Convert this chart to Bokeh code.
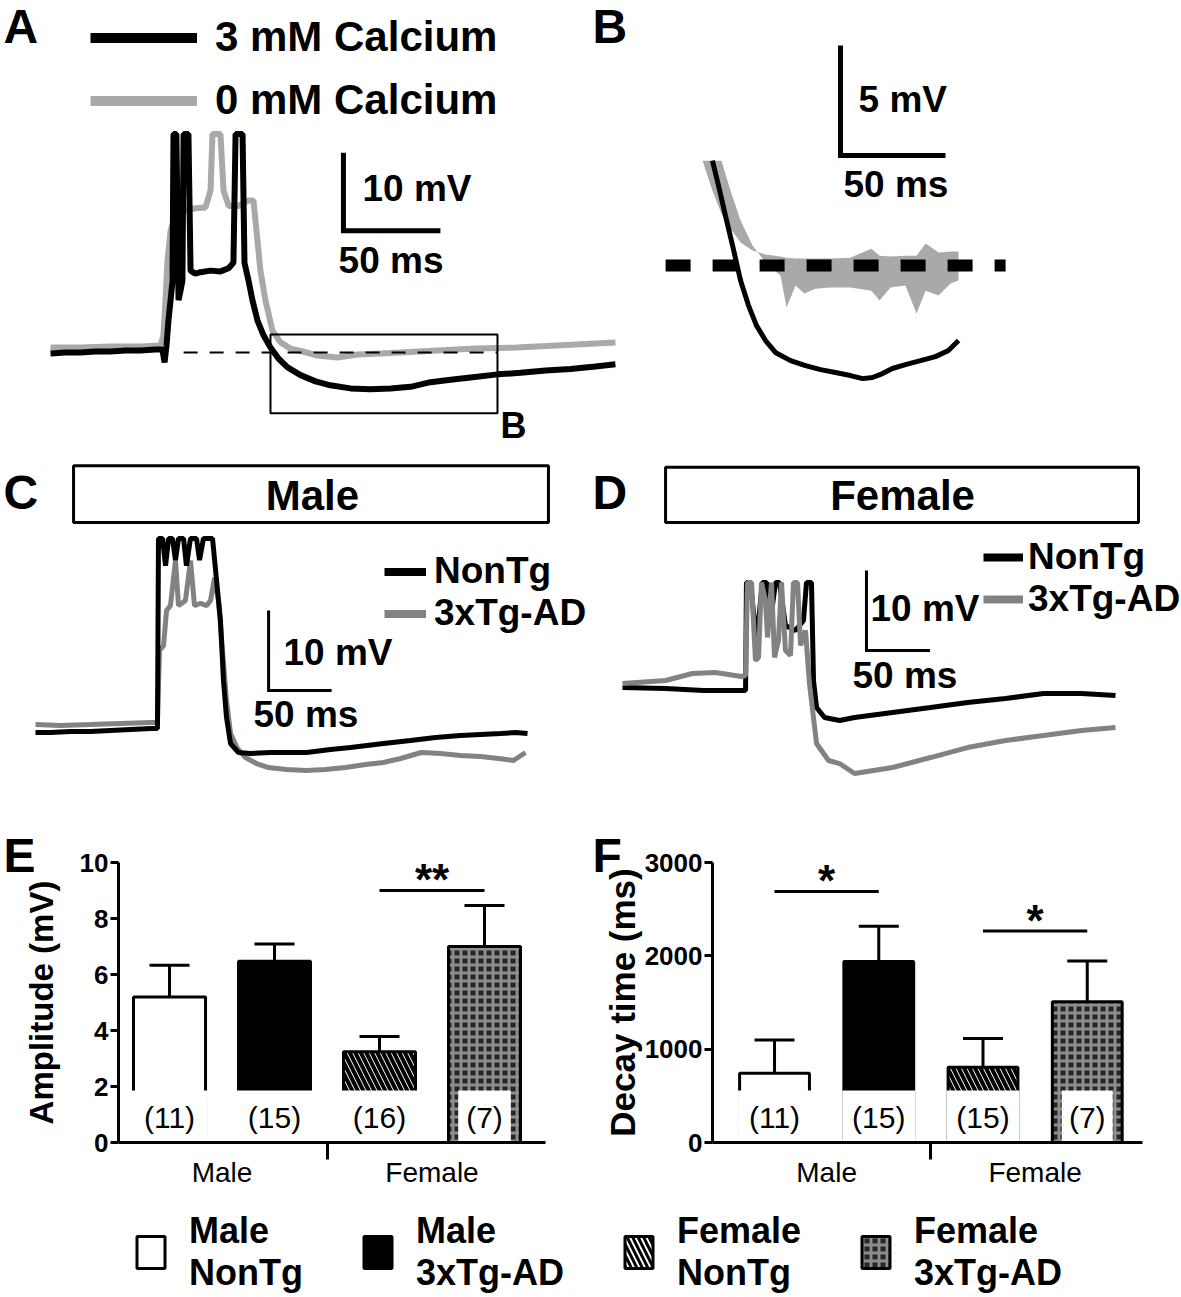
import numpy as np
from bokeh.plotting import figure
from bokeh.models import (Range1d, Label, Legend, LegendItem, ColumnDataSource,
                          BoxAnnotation, FixedTicker, Whisker, TeeHead, Title)
from bokeh.layouts import column, row
from bokeh.embed import file_html
from bokeh.resources import INLINE
from bokeh.core.properties import value

FONT = "Liberation Sans"
BLACK = "#000000"
LIGHT_GRAY = "#a9a9a9"
MID_GRAY = "#828282"

# ---------------- data (time in ms, potential in mV relative to baseline) ----------------
# Panel A
a_ca3_t = [0, 7.7, 15.5, 23.2, 30.9, 38.7, 46.4, 54.1, 57.7, 58.8, 59.8, 60.8, 61.9, 62.9, 63.4, 64.9, 66.0, 67.0,
           68.0, 68.6, 71.1, 72.2, 74.7, 77.3, 82.5, 87.6, 91.8, 94.3, 95.4, 99.0, 100.0, 102.1, 104.1, 106.7, 109.8,
           113.4, 117.5, 122.2, 128.9, 136.6, 144.3, 154.6, 164.9, 175.3, 185.6, 195.9, 206.2, 216.5, 230.4, 242.3,
           255.2, 268.0, 280.9, 291.2]
a_ca3_v = [-0.13, 0, 0, 0.13, 0.13, 0.26, 0.26, 0.38, 0.38, -1.28, 0.9, 4.1, 6.7, 9.2, 28, 28, 6.7, 7.9,
           9.2, 28, 28, 10.5, 10.1, 10.3, 10.5, 10.4, 10.8, 11.5, 28, 28, 11.5, 9.2, 6.7, 4.1, 2.2,
           0.64, -0.77, -1.9, -2.9, -3.7, -4.2, -4.6, -4.7, -4.6, -4.4, -3.8, -3.5, -3.2, -2.8, -2.6,
           -2.3, -2.1, -1.8, -1.5]
a_ca0_t = [0, 15.5, 30.9, 46.4, 56.7, 58.2, 59.3, 60.3, 61.9, 64.4, 69.6, 74.7, 79.9, 82.5, 83.5, 87.6, 89.2, 91.8,
           96.9, 102.1, 104.6, 106.2, 108.2, 110.8, 114.4, 118.6, 123.7, 129.9, 137.6, 147.9, 158.2, 170.1, 180.4,
           199.5, 219.6, 240.2, 260.8, 291.2]
a_ca0_v = [0.64, 0.64, 0.77, 0.77, 0.9, 2.2, 6.7, 11.8, 15.6, 17.6, 18.2, 18.5, 18.6, 20.8, 28, 28, 20.8, 18.8,
           18.8, 19.5, 19.5, 15.6, 10.5, 6.7, 2.8, 1.3, 0.5, 0.13, -0.38, -0.64, -0.26, -0.13, 0,
           0.26, 0.51, 0.64, 0.9, 1.28]
a_base_t = [68.6, 230.4]
a_zoom_t = [113.4, 230.4]
a_zoom_v = [-7.8, 2.3]

# Panel B (enlarged window)
b_ca3_t = [116.7, 119.6, 122.9, 126.3, 130.1, 133.9, 137.7, 142.0, 146.7, 153.9, 161.0, 168.2, 175.3, 182.4,
           188.2, 192.9, 197.7, 202.4, 208.6, 215.8, 222.9, 229.1, 233.9]
b_ca3_v = [4.77, 3.64, 2.27, 0.91, -0.68, -1.82, -2.73, -3.41, -3.95, -4.32, -4.55, -4.73, -4.86, -5.0,
           -5.14, -5.09, -4.91, -4.68, -4.5, -4.32, -4.14, -3.86, -3.41]
b_ca0_t = [112.0, 116.7, 121.0, 125.3, 130.1, 135.8, 142.0, 149.1, 152.0, 156.3, 160.5, 165.8, 172.9, 182.4,
           192.4, 196.3, 201.5, 208.6, 213.9, 218.2, 224.4, 230.1, 233.9]
b_ca0_hi = [4.77, 3.41, 2.36, 1.68, 1.05, 0.68, 0.5, 0.41, 0.36, 0.32, 0.32, 0.32, 0.32, 0.36,
            0.77, 0.45, 0.41, 0.45, 0.45, 1.0, 0.59, 0.64, 0.64]
b_ca0_lo = [4.77, 4.77, 4.77, 3.41, 2.05, 0.91, 0.14, -0.45, -1.91, -0.91, -1.27, -1.05, -1.0, -1.0,
            -1.14, -1.59, -1.0, -0.91, -2.18, -1.14, -1.36, -0.82, -0.68]
b_base_t = [94.4, 256.3]

# Panel C (male)
c_nontg_t = [0, 11.9, 27.8, 43.7, 59.5, 75.4, 91.3, 96.8, 97.6, 100.8, 103.2, 105.6, 108.7, 111.1, 113.5, 117.5,
             119.8, 123.0, 127.8, 130.2, 133.3, 140.5, 143.7, 146.8, 149.2, 151.6, 154.8, 161.1, 170.6, 186.5,
             202.4, 215.1, 234.1, 250.0, 276.2, 297.6, 317.5, 337.3, 353.2, 369.0, 381.0, 390.5]
c_nontg_v = [-0.25, -0.25, -0.13, -0.13, 0, 0.13, 0.25, 0.25, 24, 24, 20.6, 24, 24, 21.3, 24, 24,
             20.6, 24, 24, 21.3, 24, 24, 18.75, 13.75, 6.25, 1.63, -1.63, -2.75, -2.88, -2.75,
             -2.75, -2.75, -2.38, -2.13, -1.63, -1.25, -0.88, -0.63, -0.5, -0.38, -0.25, -0.38]
c_3xtg_t = [0, 19.8, 43.7, 67.5, 91.3, 96.8, 98.4, 101.6, 104.0, 107.1, 111.1, 113.5, 119.0, 123.0, 126.2, 131.0,
            135.7, 138.9, 142.1, 145.2, 148.4, 151.6, 154.8, 160.3, 166.7, 175.4, 184.9, 199.2, 215.1, 230.2,
            246.0, 261.9, 276.2, 289.7, 306.3, 321.4, 337.3, 353.2, 367.5, 379.4, 388.9]
c_3xtg_v = [0.75, 0.63, 0.75, 0.88, 1.0, 1.0, 10.0, 10.6, 15.0, 15.6, 21.25, 15.6, 16.25, 21.25, 15.6, 15.9,
            15.6, 16.25, 19.1, 16.25, 10.0, 3.75, -0.38, -2.25, -3.38, -4.13, -4.63, -4.88, -5.0, -4.88,
            -4.63, -4.25, -4.0, -3.5, -2.75, -2.88, -3.13, -3.25, -3.5, -3.75, -2.75]

# Panel D (female)
d_nontg_t = [0, 33.9, 63.8, 96.9, 97.6, 100.8, 105.5, 108.7, 110.2, 113.4, 116.5, 120.5, 123.6, 128.3, 136.2,
             142.5, 144.9, 148.8, 150.4, 152.8, 159.1, 170.9, 182.7, 212.6, 242.5, 271.7, 301.6, 331.5, 361.4, 388.2]
d_nontg_v = [0.38, 0.25, 0, 0, 13.5, 13.5, 6.0, 11.25, 13.5, 13.5, 8.75, 13.5, 13.5, 8.13, 7.5,
             8.75, 13.5, 13.5, 1.25, -2.13, -3.38, -3.75, -3.38, -2.75, -2.13, -1.5, -1.0, -0.38, -0.38, -0.63]
d_3xtg_t = [0, 33.9, 55.1, 73.2, 93.7, 96.9, 98.4, 101.6, 104.7, 107.1, 109.4, 112.6, 114.2, 117.3, 119.7, 122.8,
            125.2, 128.3, 132.3, 134.6, 137.8, 140.2, 144.1, 147.2, 152.8, 162.2, 170.9, 182.7, 197.6, 212.6,
            242.5, 271.7, 301.6, 331.5, 361.4, 388.2]
d_3xtg_v = [0.88, 1.25, 2.13, 2.25, 1.75, 1.88, 13.5, 13.5, 3.75, 4.13, 13.5, 11.25, 6.63, 13.5, 4.13, 6.25,
            13.5, 5.0, 4.38, 13.5, 13.5, 5.63, 7.5, 0.88, -6.63, -8.75, -9.13, -10.38, -10.0, -9.63,
            -8.38, -7.13, -6.25, -5.63, -5.0, -4.63]

# Panels E / F
groups = ["Male NonTg", "Male 3xTg-AD", "Female NonTg", "Female 3xTg-AD"]
legend_labels = ["Male\nNonTg", "Male\n3xTg-AD", "Female\nNonTg", "Female\n3xTg-AD"]
sex_labels = ["Male", "Female"]
amp_mean = [5.2, 6.47, 3.24, 7.0]
amp_sem = [1.13, 0.62, 0.55, 1.46]
amp_n = [11, 15, 16, 7]
amp_ticks = [0, 2, 4, 6, 8, 10]
amp_sig_pairs = [(3, 4)]
amp_sig_y = [9.0]
amp_sig_text = ["**"]
decay_mean = [743, 1938, 807, 1507]
decay_sem = [354, 379, 307, 438]
decay_n = [11, 15, 15, 7]
decay_ticks = [0, 1000, 2000, 3000]
decay_sig_pairs = [(1, 2), (3, 4)]
decay_sig_y = [2690, 2265]
decay_sig_text = ["*", "*"]

# bar styles
bar_fill = ["white", "black", "white", "#262626"]
bar_hatch = [" ", " ", "left_diagonal_line", "cross"]
bar_hatch_color = ["black", "black", "black", "#8e8e8e"]
bar_hatch_weight = [1, 1, 4, 3]
bar_hatch_scale = [12, 12, 11, 8]


# ---------------- helpers ----------------
def trace_fig(w, h, xr, yr):
    p = figure(width=w, height=h, x_range=Range1d(*xr), y_range=Range1d(*yr),
               output_backend="svg", toolbar_location=None, tools="",
               x_axis_location=None, y_axis_location=None, min_border=0)
    p.title.visible = False
    p.grid.visible = False
    p.outline_line_color = None
    p.background_fill_color = "white"
    p.border_fill_color = "white"
    return p


def txt(p, x, y, text, size, bold=True, align="left", baseline="middle", units="data"):
    p.add_layout(Label(x=x, y=y, x_units=units, y_units=units, text=text,
                       text_font=FONT, text_font_size=f"{size}px",
                       text_font_style="bold" if bold else "normal",
                       text_align=align, text_baseline=baseline, text_color=BLACK))


def scale_bar(p, t0, v0, dt, dv, lw, mv_label, ms_label, mv_pos, ms_pos, size=37):
    p.line([t0, t0, t0 + dt], [v0 + dv, v0, v0], line_color=BLACK, line_width=lw,
           line_join="miter", line_cap="butt")
    txt(p, mv_pos[0], mv_pos[1], mv_label, size)
    txt(p, ms_pos[0], ms_pos[1], ms_label, size)


def line_legend(p, series, labels, colors, lw, size, glyph_w, standoff, row_h, spacing, loc):
    items = []
    for (t, v), lab, col in zip(series, labels, colors):
        r = p.line(t, v, line_color=col, line_width=lw, visible=False)
        items.append(LegendItem(label=lab, renderers=[r]))
    leg = Legend(items=items, location=loc, orientation="vertical", glyph_width=glyph_w,
                 glyph_height=row_h, label_height=row_h, label_standoff=standoff,
                 spacing=spacing, padding=0, margin=0, border_line_color=None,
                 background_fill_alpha=0, inactive_fill_alpha=0, label_text_font=FONT,
                 label_text_color=BLACK, label_text_font_style="bold",
                 label_text_font_size=f"{size}px")
    p.add_layout(leg)


# ---------------- Panel A ----------------
pa = trace_fig(630, 445, (-25.77, 298.97), (-11.92, 45.13))
pa.line(a_ca0_t, a_ca0_v, line_color=LIGHT_GRAY, line_width=6)
pa.line(a_base_t, [0, 0], line_color=BLACK, line_width=2, line_dash="14 12")
pa.line(a_ca3_t, a_ca3_v, line_color=BLACK, line_width=6)
pa.add_layout(BoxAnnotation(left=a_zoom_t[0], right=a_zoom_t[1], bottom=a_zoom_v[0], top=a_zoom_v[1],
                            fill_color=None, fill_alpha=0, line_color=BLACK, line_alpha=1, line_width=2))
scale_bar(pa, 151, 15.6, 50, 10, 5, "10 mV", "50 ms", (160.8, 21.0), (148.5, 11.8))
line_legend(pa, [(a_ca3_t, a_ca3_v), (a_ca0_t, a_ca0_v)], ["3 mM Calcium", "0 mM Calcium"],
            [BLACK, LIGHT_GRAY], 10, 42, 107, 18, 47, 15, (90, 321))
txt(pa, 3, 419, "A", 48, baseline="alphabetic", units="screen")
txt(pa, 592, 419, "B", 48, baseline="alphabetic", units="screen")
txt(pa, 500, 20, "B", 36, baseline="alphabetic", units="screen")

# ---------------- Panel B ----------------
pb = trace_fig(551, 445, (77.69, 340.07), (-8.18, 12.05))
pb.varea(x=b_ca0_t, y1=b_ca0_lo, y2=b_ca0_hi, fill_color=LIGHT_GRAY)
pb.line(b_ca3_t, b_ca3_v, line_color=BLACK, line_width=5)
pb.line(b_base_t, [0, 0], line_color=BLACK, line_width=12, line_dash="25 22", line_cap="butt")
scale_bar(pb, 177.7, 5.0, 50, 5, 5, "5 mV", "50 ms", (186.3, 7.55), (179.1, 3.68))

# ---------------- Panel C ----------------
pc = trace_fig(590, 355, (-27.78, 440.48), (-8.75, 35.625))
pc.add_layout(BoxAnnotation(left=30.2, right=407.1, bottom=26.0, top=33.1, fill_color="white",
                            fill_alpha=1, line_color=BLACK, line_alpha=1, line_width=3))
txt(pc, 219.8, 29.4, "Male", 42, align="center")
pc.line(c_3xtg_t, c_3xtg_v, line_color=MID_GRAY, line_width=5)
pc.line(c_nontg_t, c_nontg_v, line_color=BLACK, line_width=5)
scale_bar(pc, 185, 5, 50, 10, 3, "10 mV", "50 ms", (196.8, 9.75), (173, 2.0))
line_legend(pc, [(c_nontg_t, c_nontg_v), (c_3xtg_t, c_3xtg_v)], ["NonTg", "3xTg-AD"],
            [BLACK, MID_GRAY], 8, 37, 42, 8, 41, 0, (384, 166))
txt(pc, 3, 308, "C", 48, baseline="alphabetic", units="screen")

# ---------------- Panel D ----------------
pd_ = trace_fig(591, 355, (-25.2, 440.16), (-13.75, 30.625))
pd_.add_layout(BoxAnnotation(left=33.9, right=406.3, bottom=21.0, top=27.9, fill_color="white",
                             fill_alpha=1, line_color=BLACK, line_alpha=1, line_width=3))
txt(pd_, 220.5, 24.4, "Female", 42, align="center")
pd_.line(d_nontg_t, d_nontg_v, line_color=BLACK, line_width=5)
pd_.line(d_3xtg_t, d_3xtg_v, line_color=MID_GRAY, line_width=5)
scale_bar(pd_, 192.1, 5, 50, 10, 3, "10 mV", "50 ms", (195.3, 10.25), (181.1, 1.9))
line_legend(pd_, [(d_nontg_t, d_nontg_v), (d_3xtg_t, d_3xtg_v)], ["NonTg", "3xTg-AD"],
            [BLACK, MID_GRAY], 8, 37, 40, 5, 40, 0, (393, 180))
txt(pd_, 2, 308, "D", 48, baseline="alphabetic", units="screen")


# ---------------- Panels E / F ----------------
def bar_chart(w, xr, ymax, ticks, mean, sem, n, sig_pairs, sig_y, sig_text, ylabel,
              bw, border_left, border_right, ylabel_size, ylabel_standoff, letter, letter_x):
    pos = np.arange(1, len(mean) + 1)
    title = Title(text=letter, align="left", offset=letter_x - border_left, standoff=-38,
                  text_font=FONT, text_font_size="48px", text_font_style="bold",
                  text_color=BLACK, vertical_align="bottom")
    p = figure(width=w, height=390, x_range=Range1d(*xr), y_range=Range1d(0, ymax),
               output_backend="svg", toolbar_location=None, tools="", title=title,
               min_border_left=border_left, min_border_right=border_right,
               min_border_top=62, min_border_bottom=47)
    p.grid.visible = False
    p.outline_line_color = None
    p.background_fill_color = "white"
    p.border_fill_color = "white"

    src = ColumnDataSource(dict(x=pos, top=mean, hi=np.array(mean) + np.array(sem),
                                fill=bar_fill, hatch=bar_hatch, hcol=bar_hatch_color,
                                hw=bar_hatch_weight, hs=bar_hatch_scale))
    p.add_layout(Whisker(source=src, base="x", upper="hi", lower="top", dimension="height",
                         line_color=BLACK, line_width=3, lower_head=None,
                         upper_head=TeeHead(size=40, line_color=BLACK, line_width=3)))
    p.vbar(x="x", top="top", width=bw, source=src, fill_color="fill", hatch_pattern="hatch",
           hatch_color="hcol", hatch_weight="hw", hatch_scale="hs",
           line_color=BLACK, line_width=3)
    # white boxes holding the n
    box_w = [bw + 0.03, bw + 0.03, bw + 0.03, bw * 0.73]
    p.vbar(x=pos, top=[0.186 * ymax] * len(pos), width=box_w, fill_color="white", line_color=None)
    p.text(x=pos, y=[0.09 * ymax] * len(pos), text=[f"({k})" for k in n],
           text_font=value(FONT), text_font_size=value("30px"), text_align="center",
           text_baseline="middle", text_color=BLACK)
    # significance
    x0 = [a for a, b in sig_pairs]
    x1 = [b for a, b in sig_pairs]
    p.segment(x0=x0, x1=x1, y0=sig_y, y1=sig_y, line_color=BLACK, line_width=3)
    p.text(x=[(a + b) / 2 for a, b in sig_pairs], y=sig_y, text=sig_text, text_font=value(FONT),
           text_font_size=value("44px"), text_font_style="bold", text_align="center",
           text_baseline="alphabetic", y_offset=-11, text_color=BLACK)

    # axes
    yax = p.yaxis[0]
    yax.ticker = FixedTicker(ticks=ticks)
    yax.axis_line_width = 3
    yax.major_tick_line_width = 3
    yax.major_tick_out = 8
    yax.major_tick_in = 0
    yax.minor_tick_line_color = None
    yax.major_label_standoff = 2
    yax.major_label_text_font = FONT
    yax.major_label_text_font_style = "bold"
    yax.major_label_text_font_size = "26px"
    yax.major_label_text_color = BLACK
    yax.axis_label = ylabel
    yax.axis_label_text_font = FONT
    yax.axis_label_text_font_style = "bold"
    yax.axis_label_text_font_size = f"{ylabel_size}px"
    yax.axis_label_text_color = BLACK
    yax.axis_label_standoff = ylabel_standoff

    centers = [float(np.mean(pos[:2])), float(np.mean(pos[2:]))]
    divider = float(np.mean(pos[1:3]))
    xax = p.xaxis[0]
    xax.ticker = FixedTicker(ticks=centers, minor_ticks=[divider])
    xax.major_label_overrides = {c: s for c, s in zip(centers, sex_labels)}
    xax.axis_line_width = 3
    xax.major_tick_line_color = None
    xax.major_tick_out = 0
    xax.major_tick_in = 0
    xax.minor_tick_line_color = BLACK
    xax.minor_tick_line_width = 3
    xax.minor_tick_out = 17
    xax.minor_tick_in = 0
    xax.major_label_standoff = -3
    xax.major_label_text_font = FONT
    xax.major_label_text_font_size = "28px"
    xax.major_label_text_color = BLACK
    return p


pe = bar_chart(590, (0.514, 4.581), 10, amp_ticks, amp_mean, amp_sem, amp_n, amp_sig_pairs,
               amp_sig_y, amp_sig_text, "Amplitude (mV)", 0.686, 118, 45, 33, 17, "E", 3)
pf = bar_chart(591, (0.405, 4.53), 3000, decay_ticks, decay_mean, decay_sem, decay_n, decay_sig_pairs,
               decay_sig_y, decay_sig_text, "Decay time (ms)", 0.67, 122, 39, 35, 0, "F", 2)

# ---------------- bottom legend ----------------
pl = trace_fig(1181, 107, (0, 5), (0, 10))
items = []
for i, lab in enumerate(legend_labels):
    r = pl.vbar(x=[i + 1], top=[amp_mean[i]], width=0.5, fill_color=bar_fill[i], hatch_pattern=bar_hatch[i],
                hatch_color=bar_hatch_color[i], hatch_weight=min(bar_hatch_weight[i], 3),
                hatch_scale=bar_hatch_scale[i], line_color=BLACK, line_width=3, visible=False)
    items.append(LegendItem(label=lab, renderers=[r]))
pl.add_layout(Legend(items=items, orientation="horizontal", location=(133, 3), glyph_width=35,
                     glyph_height=40, label_standoff=21, spacing=57, padding=0, margin=0,
                     border_line_color=None, background_fill_alpha=0, inactive_fill_alpha=0,
                     label_text_font=FONT, label_text_color=BLACK,
                     label_text_font_style="bold", label_text_font_size="36px"))

layout = column(row(pa, pb), row(pc, pd_), row(pe, pf), pl)
open("out.html", "w").write(file_html(layout, INLINE))
